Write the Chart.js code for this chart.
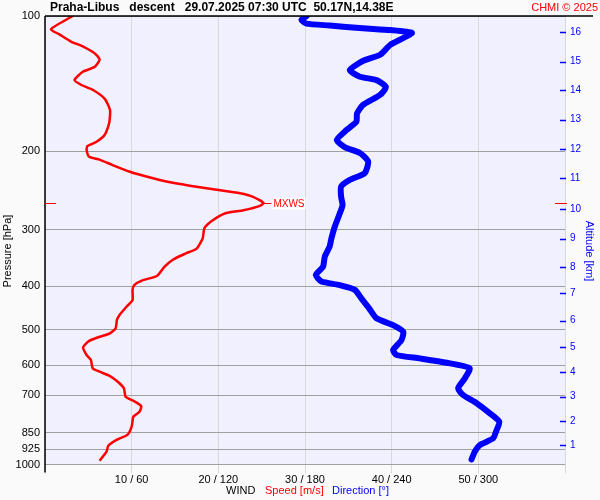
<!DOCTYPE html>
<html><head><meta charset="utf-8">
<script src="https://cdn.jsdelivr.net/npm/chart.js@4"></script>
<style>html,body{margin:0;padding:0;background:#fafafa}#wrap{width:600px;height:500px}</style>
</head><body><div id="wrap"><canvas id="c" width="600" height="500"></canvas></div>
<script>
// ---- data ----
const speedPressure = [100,107,110,114,117,121,125,130,133,139,142.5,146,153,162,173.5,184,191,195,199,206,209,215,222.5,228,234,239,244,248.5,253,261,265,271,275,285,297,313,330,338,349,362,380,388,398,408,430,445,464,476,497,510,519,530,548,570,585,610,621,635,654,676,706,721,741,763,782,823,859,882,908,936,981];
const speedValues = [3.2,0.7,1.7,3.0,4.4,5.7,6.3,5.7,4.4,3.4,4.2,5.5,6.9,7.5,7.4,6.9,5.9,4.9,4.8,5.1,6.3,7.8,9.8,11.7,14.0,16.7,19.8,22.5,24.0,25.2,24.8,22.9,20.9,19.4,18.4,18.2,17.5,16.3,14.8,13.8,12.9,11.3,10.3,10.1,10.1,9.4,8.6,8.3,8.15,7.5,6.3,5.1,4.4,4.8,5.3,5.5,6.3,7.5,8.4,9.1,9.3,10.2,11.1,10.9,10.2,10.0,9.5,8.2,7.3,7.1,6.3];
const dirPressure = [100,102,104,105,106.5,107.5,109,112,116,122,126,132,136.6,139,144,150,158,165,172,179.6,189,196,202,211,224,232,240,253,264,278,295,313,327,344,362,378,391,398,408,426,448.5,472,489,506,528,555.5,570,580,593,610,642,676,700,730,769,803,845,874,905,936,974];
const dirValues = [181,177.5,181,197,220,239,254,248,239,232,220,211,218,229.5,236,232,220,216,215.6,208.7,202,207.5,218,223.7,221.4,211,205,205,206,203.6,200.6,198.3,197,193.7,192.5,187.5,191.4,204,214.5,219,224.4,229.5,241,248,246.8,241,243.4,259.5,278,294,290.7,286,289.5,298.8,308,314.5,312.2,310.3,301,297.6,295.3];
const pressureTicks = [100,200,300,400,500,600,700,850,925,1000];
const speedTicks = [0,10,20,30,40,50,60];
const altitudeKm = [1,2,3,4,5,6,7,8,9,10,11,12,13,14,15,16];
const altitudePressure = [904.6,801,706,623,548,478,415.3,363.4,313.7,269.8,229.7,197.9,170.3,146.2,126.4,108.7];
const titleText = 'Praha-Libus   descent   29.07.2025 07:30 UTC  50.17N,14.38E';
const creditText = 'CHMI \u00a9 2025';

Chart.defaults.font.family = '"Liberation Sans", Arial, sans-serif';
Chart.defaults.font.size = 11;

const FONT = '"Liberation Sans", Arial, sans-serif';
const deco = {
  id: 'deco',
  beforeDraw(chart) {
    const {ctx, chartArea: a} = chart;
    ctx.save();
    ctx.fillStyle = '#fafafa';
    ctx.fillRect(0, 0, chart.width, chart.height);
    ctx.fillStyle = '#f0f0ff';
    ctx.fillRect(a.left, a.top, a.right - a.left, a.bottom - a.top);
    ctx.restore();
  },
  afterDatasetsDraw(chart) {
    const {ctx, chartArea: a, scales} = chart;
    ctx.save();
    // left & top black borders
    ctx.strokeStyle = '#000'; ctx.lineWidth = 1.5;
    ctx.beginPath();
    ctx.moveTo(a.left, a.top); ctx.lineTo(a.left, a.bottom + 8);
    ctx.moveTo(a.left, a.top); ctx.lineTo(593, a.top);
    ctx.stroke();
    // altitude ticks (blue)
    ctx.strokeStyle = '#0000ff'; ctx.lineWidth = 1.5;
    ctx.beginPath();
    scales.y2.ticks.forEach(t => {
      const py = Math.round(scales.y2.getPixelForValue(t.value)) + 0.5;
      ctx.moveTo(a.right - 5, py); ctx.lineTo(a.right + 1, py);
    });
    ctx.stroke();
    // MXWS marker
    let mi = 0;
    speedValues.forEach((v, i) => { if (v > speedValues[mi]) mi = i; });
    const px = scales.x.getPixelForValue(speedValues[mi]);
    const py = Math.round(scales.y.getPixelForValue(speedPressure[mi])) + 0.5;
    ctx.strokeStyle = '#ff0000'; ctx.lineWidth = 1;
    ctx.beginPath();
    ctx.moveTo(px, py); ctx.lineTo(px + 8, py);
    ctx.moveTo(a.left, py); ctx.lineTo(a.left + 11, py);
    ctx.moveTo(a.right - 10, py); ctx.lineTo(a.right + 2, py);
    ctx.stroke();
    ctx.font = '10px ' + FONT;
    const w = ctx.measureText('MXWS').width;
    ctx.fillStyle = '#ffffff';
    ctx.fillRect(px + 9, py - 6, w + 2, 12);
    ctx.fillStyle = '#ff0000';
    ctx.textBaseline = 'middle'; ctx.textAlign = 'left';
    ctx.fillText('MXWS', px + 10, py + 1);
    ctx.restore();
  },
  afterDraw(chart) {
    const {ctx} = chart;
    ctx.save();
    ctx.textBaseline = 'middle';
    ctx.textAlign = 'left';
    ctx.fillStyle = '#000';
    ctx.font = 'bold 12px ' + FONT;
    ctx.fillText(titleText, 50, 8);
    ctx.textAlign = 'right';
    ctx.fillStyle = '#ff0000';
    ctx.font = '11px ' + FONT;
    ctx.fillText(creditText, 598, 8);
    // bottom title
    ctx.textAlign = 'left';
    ctx.fillStyle = '#000'; ctx.fillText('WIND', 226, 491);
    ctx.fillStyle = '#ff0000'; ctx.fillText('Speed [m/s]', 265, 491);
    ctx.fillStyle = '#0000ff'; ctx.fillText('Direction [\u00b0]', 332, 491);
    // left title
    ctx.save();
    ctx.translate(8, 251); ctx.rotate(-Math.PI / 2);
    ctx.textAlign = 'center'; ctx.fillStyle = '#000';
    ctx.fillText('Pressure [hPa]', 0, 0);
    ctx.restore();
    // right title
    ctx.save();
    ctx.translate(589, 251); ctx.rotate(Math.PI / 2);
    ctx.textAlign = 'center'; ctx.fillStyle = '#0000ff';
    ctx.fillText('Altitude [km]', 0, 0);
    ctx.restore();
    ctx.restore();
  }
};

new Chart(document.getElementById('c'), {
  type: 'scatter',
  data: {
    datasets: [
      {
        label: 'Direction',
        data: dirPressure.map((p, i) => ({x: dirValues[i], y: p})),
        xAxisID: 'x2', yAxisID: 'y',
        showLine: true, borderColor: '#0000ff', borderWidth: 6,
        borderCapStyle: 'round', borderJoinStyle: 'round',
        pointRadius: 0, tension: 0.2
      },
      {
        label: 'Speed',
        data: speedPressure.map((p, i) => ({x: speedValues[i], y: p})),
        xAxisID: 'x', yAxisID: 'y',
        showLine: true, borderColor: '#ff0000', borderWidth: 2.5,
        borderJoinStyle: 'round',
        pointRadius: 0, tension: 0.2
      }
    ]
  },
  options: {
    responsive: false,
    animation: false,
    devicePixelRatio: 1,
    layout: {padding: {top: 16, left: 0, right: 0, bottom: 0}},
    plugins: {legend: {display: false}, tooltip: {enabled: false}},
    scales: {
      x: {
        type: 'linear', position: 'bottom', min: 0, max: 60,
        afterBuildTicks: s => { s.ticks = speedTicks.map(v => ({value: v})); },
        afterFit: s => { s.height = 35.5; },
        grid: {color: '#d8d8d8', lineWidth: 1, drawTicks: true, tickLength: 9, tickColor: '#d8d8d8'},
        border: {display: false},
        ticks: {padding: 0, color: '#000', font: {size: 11}, autoSkip: false, maxRotation: 0,
          callback: v => (v > 0 && v < 60) ? (v + ' / ' + (v * 6)) : ''}
      },
      x2: {type: 'linear', display: false, min: 0, max: 360},
      y: {
        type: 'logarithmic', position: 'left', min: 100, max: 1000, reverse: true,
        afterBuildTicks: s => { s.ticks = pressureTicks.map(v => ({value: v})); },
        afterFit: s => { s.width = 45; },
        grid: {color: '#a0a0a0', lineWidth: 1, drawTicks: false},
        border: {display: false},
        ticks: {padding: 5, color: '#000', font: {size: 11}, autoSkip: false, callback: v => String(v)}
      },
      y2: {
        type: 'logarithmic', position: 'right', min: 100, max: 1000, reverse: true,
        afterBuildTicks: s => { s.ticks = altitudePressure.map(v => ({value: v})); },
        afterFit: s => { s.width = 35; },
        grid: {drawOnChartArea: false, drawTicks: false},
        border: {display: false},
        ticks: {padding: 5, color: '#0000ff', font: {size: 10}, autoSkip: false,
          callback: (v, i) => String(altitudeKm[i])}
      }
    }
  },
  plugins: [deco]
});
</script>
</body></html>
